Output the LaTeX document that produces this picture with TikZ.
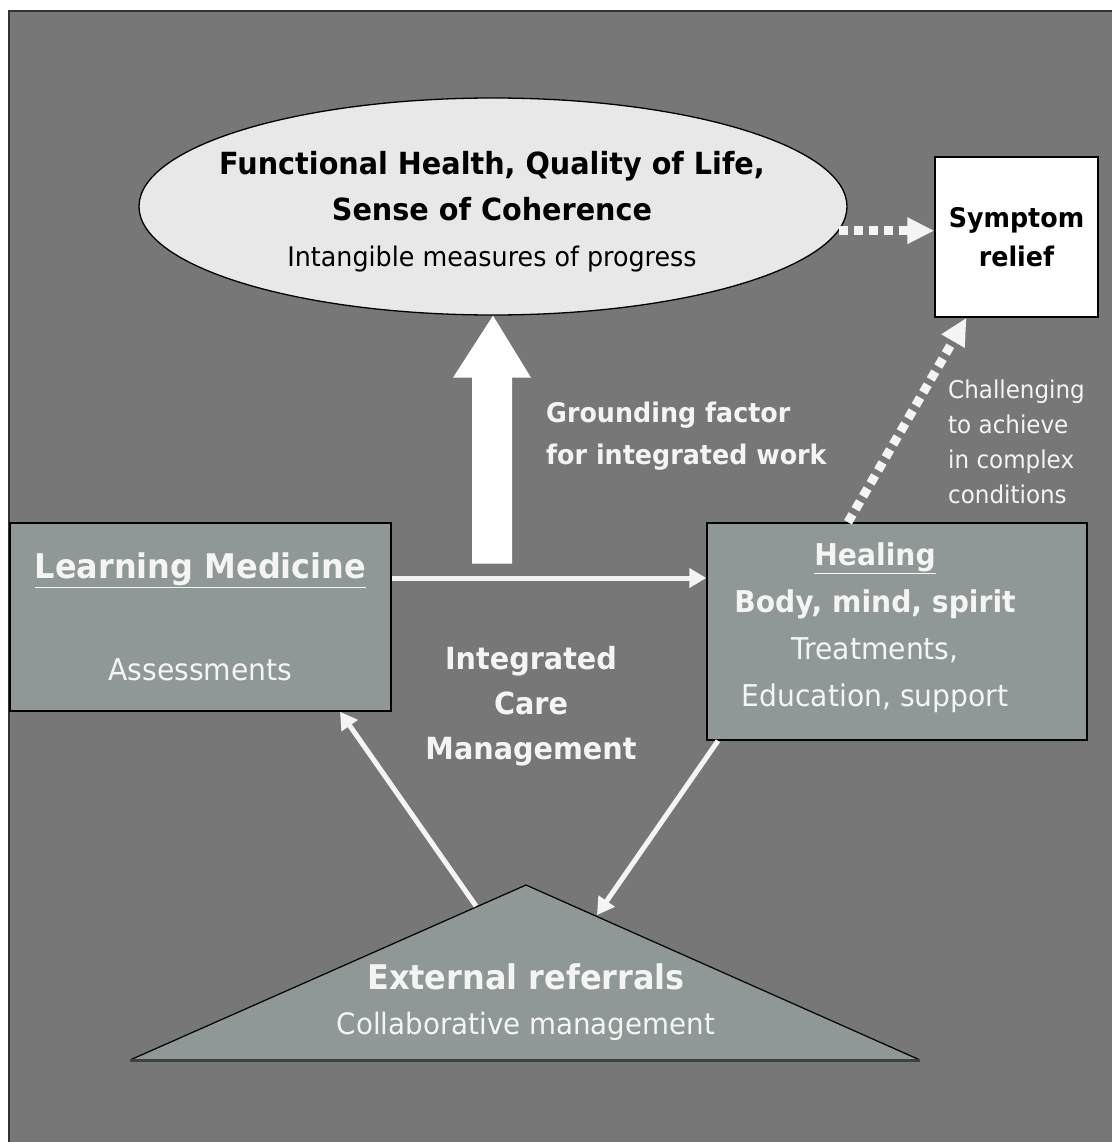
\documentclass[tikz,border=0pt]{standalone}
\usepackage{fontspec}
\setmainfont{DejaVu Sans}[FakeStretch=0.94]
\usetikzlibrary{arrows.meta, positioning, shapes.geometric}
\definecolor{slate}{HTML}{777777}
\definecolor{boxgray}{HTML}{8F9797}
\definecolor{mist}{HTML}{E8E8E8}
\definecolor{chalk}{HTML}{F4F4F4}
\newcommand{\sz}[2]{\fontsize{#1}{#2}\selectfont}
\tikzset{BoxStyle/.style = {
			shape          = rectangle,
			draw           = black,
			fill           = boxgray,
			line width     = 1.5pt,
			inner sep      = 0pt,
			text           = chalk,
			align          = center}
			}
\tikzset{OvalStyle/.style = {
			shape          = ellipse,
			draw           = black,
			fill           = mist,
			line width     = 1.3pt,
			inner sep      = 0pt,
			minimum width  = 708pt,
			minimum height = 217pt}
			}
\tikzset{LabelStyle/.style = {text = chalk, inner sep = 0pt}}
\tikzset{LinkStyle/.style = {draw = chalk, line width = 5pt, -{Triangle[length=17pt,width=19pt]}}}
\tikzset{DotStyle/.style = {draw = chalk, line width = 9pt, dash pattern = on 9pt off 6pt, -{Triangle[length=27pt,width=25pt]}}}

\begin{document}
\begin{tikzpicture}[x=1pt,y=-1pt]
	\useasboundingbox (0,0) rectangle (1112,1142);
	\fill[white] (0,0) rectangle (1112,1142);
	\fill[slate] (9,11) rectangle (1112,1142);
	\draw[black!80, line width=1.5pt] (9,1142) -- (9,11) -- (1112,11);

	\draw (493,206.5) node[OvalStyle] (health) {};
	\draw (492,212) node[inner sep=0pt, align=center, font=\sz{30.5}{46}] (healthtext) {{\bfseries Functional Health, Quality of Life,}\\ {\bfseries Sense of Coherence}\\ {\sz{27}{46}Intangible measures of progress}};
	\draw (1016.5,237) node[BoxStyle, fill=white, text=black, minimum width=163pt, minimum height=160pt, font=\sz{27}{39}\bfseries] (relief) {Symptom\\relief};

	\draw (200.5,617) node[BoxStyle, minimum width=381pt, minimum height=188pt, font=\sz{34}{45}] (learn) {{\bfseries\underline{Learning Medicine}}\\[57pt] {\sz{30}{45}Assessments}};
	\draw (897,631.5) node[BoxStyle, minimum width=380pt, minimum height=217pt] (heal) {};
	\draw (875,628) node[LabelStyle, align=center, font=\sz{30}{47}] (healtext) {{\bfseries\underline{Healing}}\\ {\bfseries Body, mind, spirit}\\ Treatments,\\ Education, support};

	\draw (546,436) node[LabelStyle, anchor=west, align=left, font=\sz{27}{42}\bfseries] (ground) {Grounding factor\\for integrated work};
	\draw (948,442) node[LabelStyle, anchor=west, align=left, font=\sz{24.5}{35}] (hard) {Challenging\\to achieve\\in complex\\conditions};
	\draw (531,706) node[LabelStyle, align=center, font=\sz{30.5}{45}\bfseries] (icm) {Integrated\\Care\\Management};

	% referrals triangle
	\coordinate (baseL) at (130,1060);
	\coordinate (apex)  at (526,885);
	\coordinate (baseR) at (920,1060);
	\coordinate (refL)  at (476,906);
	\coordinate (refR)  at (597,915);
	\fill[boxgray] (baseL) -- (apex) -- (baseR) -- cycle;
	\draw[black, line width=1.2pt] (baseL) -- (apex) -- (baseR);
	\draw[black!75, line width=3pt] (baseL) -- (baseR);
	\draw (526,1002) node[LabelStyle, align=center, font=\sz{34}{45}] (refer) {{\bfseries External referrals}\\ {\sz{29.5}{45}Collaborative management}};

	% grounding arrow
	\fill[white] (health.south) -- ++(38,62) -- ++(-19,0) -- ++(0,186) -- ++(-40,0) -- ++(0,-186) -- ++(-19,0) -- cycle;

	\draw[LinkStyle] ([yshift=39pt]learn.east) -- ([yshift=39pt]learn.east -| heal.west);
	\draw[LinkStyle] (refL) -- ([xshift=139.5pt]learn.south);
	\draw[LinkStyle] ([xshift=-179pt]heal.south) -- (refR);

	\draw[DotStyle] (health.-4) -- (health.-4 -| relief.west);
	\draw[DotStyle] ([xshift=-49pt]heal.north) -- ([xshift=-50pt]relief.south);
\end{tikzpicture}
\end{document}
